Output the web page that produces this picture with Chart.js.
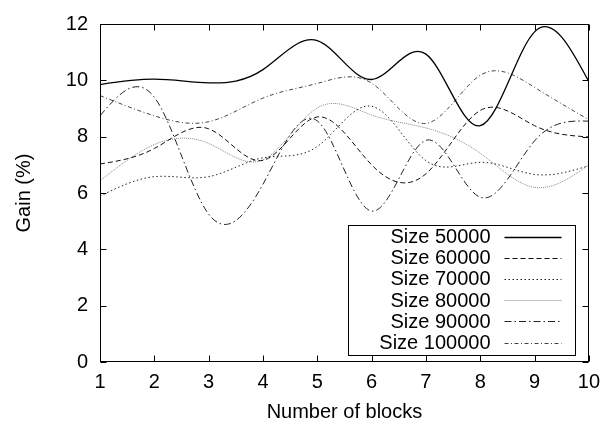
<!DOCTYPE html>
<html>
<head>
<meta charset="utf-8">
<script src="https://cdn.jsdelivr.net/npm/chart.js@4.4.0/dist/chart.umd.min.js"></script>
<style>
  html, body { margin: 0; padding: 0; background: #fff; }
  #wrap { width: 608px; height: 431px; }
</style>
</head>
<body>
<div id="wrap"><canvas id="gainChart"></canvas></div>
<script>
// data (gain in % per number of blocks)
const blocks = [1, 2, 3, 4, 5, 6, 7, 8, 9, 10];
const size50000  = [9.85, 10.04, 9.91, 10.38, 11.41, 10.03, 10.93, 8.39, 11.72, 9.95];
const size60000  = [7.03, 7.58, 8.28, 7.16, 8.70, 7.00, 6.68, 8.93, 8.39, 7.99];
const size70000  = [5.89, 6.58, 6.58, 7.25, 7.65, 9.08, 7.15, 7.09, 6.66, 6.97];
const size80000  = [6.43, 7.72, 7.76, 7.18, 9.02, 8.77, 8.31, 7.41, 6.20, 7.00];
const size90000  = [8.74, 9.40, 5.25, 6.31, 8.56, 5.36, 7.87, 5.85, 7.85, 8.55];
const size100000 = [9.46, 8.74, 8.53, 9.37, 9.89, 9.90, 8.47, 10.18, 9.75, 8.60];
const seriesLabels = ["Size 50000", "Size 60000", "Size 70000", "Size 80000", "Size 90000", "Size 100000"];
const xTicks = [1, 2, 3, 4, 5, 6, 7, 8, 9, 10];
const yTicks = [0, 2, 4, 6, 8, 10, 12];

const FONT = '"Liberation Sans", Arial, Helvetica, sans-serif';

function pairs(vals) {
  return blocks.map((b, i) => ({ x: b, y: vals[i] }));
}

// natural cubic spline slopes (like gnuplot "smooth csplines")
function naturalSlopes(xs, ys) {
  const n = xs.length;
  const h = [];
  for (let i = 0; i < n - 1; i++) h.push(xs[i + 1] - xs[i]);
  const M = new Array(n).fill(0);
  if (n > 2) {
    const a = [], b = [], c = [], d = [];
    for (let i = 1; i < n - 1; i++) {
      a.push(h[i - 1]);
      b.push(2 * (h[i - 1] + h[i]));
      c.push(h[i]);
      d.push(6 * ((ys[i + 1] - ys[i]) / h[i] - (ys[i] - ys[i - 1]) / h[i - 1]));
    }
    const m = d.length;
    for (let i = 1; i < m; i++) {
      const w = a[i] / b[i - 1];
      b[i] -= w * c[i - 1];
      d[i] -= w * d[i - 1];
    }
    const sol = new Array(m);
    sol[m - 1] = d[m - 1] / b[m - 1];
    for (let i = m - 2; i >= 0; i--) sol[i] = (d[i] - c[i] * sol[i + 1]) / b[i];
    for (let i = 0; i < m; i++) M[i + 1] = sol[i];
  }
  const s = [];
  for (let i = 0; i < n - 1; i++) s.push((ys[i + 1] - ys[i]) / h[i] - h[i] * (2 * M[i] + M[i + 1]) / 6);
  s.push((ys[n - 1] - ys[n - 2]) / h[n - 2] + h[n - 2] * (M[n - 2] + 2 * M[n - 1]) / 6);
  return s;
}

// replace chart.js control points with the natural spline ones
const csplines = {
  id: 'csplines',
  beforeDatasetsDraw(chart) {
    chart.data.datasets.forEach((ds, i) => {
      const meta = chart.getDatasetMeta(i);
      const pts = meta.data;
      if (!pts || pts.length < 3) return;
      const xs = pts.map(p => p.x);
      const ys = pts.map(p => p.y);
      const m = naturalSlopes(xs, ys);
      pts.forEach((p, k) => {
        if (k > 0) {
          const d = (xs[k] - xs[k - 1]) / 3;
          p.cp1x = xs[k] - d; p.cp1y = ys[k] - d * m[k];
        }
        if (k < pts.length - 1) {
          const d = (xs[k + 1] - xs[k]) / 3;
          p.cp2x = xs[k] + d; p.cp2y = ys[k] + d * m[k];
        }
      });
      meta.dataset._pointsUpdated = true;
      meta.dataset._path = undefined;
    });
  }
};

// gnuplot style border with inward ticks on all four sides
const frame = {
  id: 'frame',
  afterDatasetsDraw(chart) {
    const { ctx, chartArea: a, scales: { x, y } } = chart;
    const L = Math.round(a.left) + 0.5, R = Math.round(a.right) - 0.5;
    const T = Math.round(a.top) + 0.5, B = Math.round(a.bottom) - 0.5;
    ctx.save();
    ctx.strokeStyle = '#000';
    ctx.lineWidth = 1;
    ctx.beginPath();
    xTicks.forEach(v => {
      const px = Math.round(x.getPixelForValue(v)) + 0.5;
      ctx.moveTo(px, B); ctx.lineTo(px, B - 6);
      ctx.moveTo(px, T); ctx.lineTo(px, T + 6);
    });
    yTicks.forEach(v => {
      const py = Math.round(y.getPixelForValue(v)) + 0.5;
      ctx.moveTo(L, py); ctx.lineTo(L + 6, py);
      ctx.moveTo(R, py); ctx.lineTo(R - 6, py);
    });
    ctx.stroke();
    ctx.strokeRect(L, T, R - L, B - T);
    ctx.restore();
  }
};

// key box in the lower right, text right-aligned with the sample after it
const keyBox = {
  id: 'keyBox',
  afterDraw(chart) {
    const { ctx, chartArea: a } = chart;
    const rowH = 21.2;
    const right = Math.round(a.right) - 13.5;
    const bottom = Math.round(a.bottom) - 6.5;
    const left = right - 227;
    const top = bottom - 130;
    ctx.save();
    ctx.fillStyle = '#fff';
    ctx.fillRect(left, top, right - left, bottom - top);
    ctx.strokeStyle = '#000';
    ctx.lineWidth = 1;
    ctx.strokeRect(left, top, right - left, bottom - top);
    ctx.font = '20px ' + FONT;
    ctx.textAlign = 'right';
    ctx.textBaseline = 'middle';
    chart.data.datasets.forEach((ds, i) => {
      const cy = top + 11 + i * rowH;
      ctx.fillStyle = '#000';
      ctx.fillText(ds.label, left + 142, cy + 1);
      ctx.strokeStyle = ds.borderColor;
      ctx.lineWidth = ds.borderWidth;
      ctx.setLineDash(ds.borderDash || []);
      ctx.beginPath();
      ctx.moveTo(left + 156, Math.round(cy) + 0.5);
      ctx.lineTo(left + 213, Math.round(cy) + 0.5);
      ctx.stroke();
    });
    ctx.restore();
  }
};

function lineSet(label, vals, color, width, dash) {
  return {
    label: label,
    data: pairs(vals),
    borderColor: color,
    borderWidth: width,
    borderDash: dash,
    pointRadius: 0,
    fill: false,
    cubicInterpolationMode: 'monotone'
  };
}

Chart.defaults.color = '#000';
Chart.defaults.font.family = FONT;

new Chart(document.getElementById('gainChart'), {
  type: 'line',
  data: {
    datasets: [
      lineSet(seriesLabels[0], size50000, '#000', 1.3, []),
      lineSet(seriesLabels[1], size60000, '#111', 1, [5, 3]),
      lineSet(seriesLabels[2], size70000, '#222', 1, [1.5, 2.5]),
      lineSet(seriesLabels[3], size80000, '#888', 1, [1, 1]),
      lineSet(seriesLabels[4], size90000, '#222', 1, [7, 3, 1.5, 3]),
      lineSet(seriesLabels[5], size100000, '#444', 1, [4, 2.5, 1, 2.5])
    ]
  },
  options: {
    responsive: true,
    maintainAspectRatio: false,
    animation: false,
    events: [],
    layout: { padding: { left: 0, right: 18, top: 16, bottom: 0 } },
    plugins: {
      legend: { display: false },
      tooltip: { enabled: false }
    },
    scales: {
      x: {
        type: 'linear',
        min: 1,
        max: 10,
        afterBuildTicks: (s) => { s.ticks = xTicks.map(v => ({ value: v })); },
        afterFit: (s) => { s.height = 69; },
        grid: { display: false, drawTicks: false },
        border: { display: false },
        ticks: { font: { size: 20 }, padding: 8, maxRotation: 0 },
        title: { display: true, text: 'Number of blocks', font: { size: 20 }, padding: { top: 0, bottom: 7 } }
      },
      y: {
        min: 0,
        max: 12,
        afterBuildTicks: (s) => { s.ticks = yTicks.map(v => ({ value: v })); },
        afterFit: (s) => { s.width = 100; },
        grid: { display: false, drawTicks: false },
        border: { display: false },
        ticks: { font: { size: 20 }, padding: 12 },
        title: { display: true, text: 'Gain (%)', font: { size: 20 }, padding: { top: 12, bottom: 0 } }
      }
    }
  },
  plugins: [csplines, frame, keyBox]
});
</script>
</body>
</html>
